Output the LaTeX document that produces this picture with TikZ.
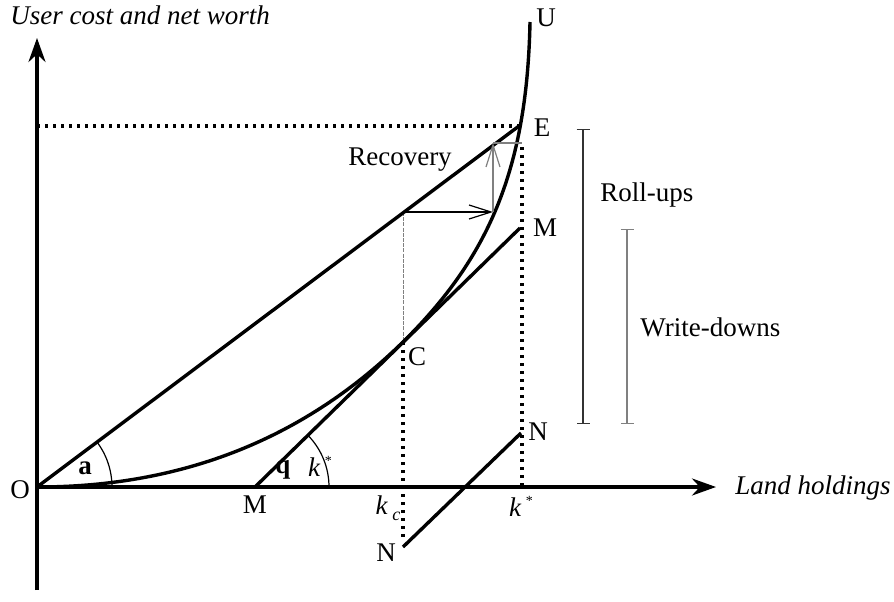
\documentclass[tikz,border=0pt]{standalone}
\usepackage{fontspec}
\setmainfont{Liberation Serif}
\usetikzlibrary{positioning,arrows.meta}

\begin{document}
\begin{tikzpicture}[x=0.5pt,y=0.5pt,
			font=\fontsize{13.5}{16}\selectfont,
			axis/.style={line width=1.7pt, -{Stealth[length=12pt,width=8.5pt]}},
			thickline/.style={line width=1.7pt},
			dots/.style={line width=1.7pt, dash pattern=on 1.6pt off 2.4pt},
			move/.style={line width=0.6pt, -{Straight Barb[length=11pt,width=7pt]}},
			span/.style={line width=0.6pt, {Bar[width=6.5pt]}-{Bar[width=6.5pt]}},
			lbl/.style={inner sep=1pt}]
			
			\useasboundingbox (-37,-114) rectangle (857,487);
			
			% points
			\coordinate (O) at (0,0);
			\coordinate (ytop) at (0,449);
			\coordinate (ybot) at (0,-103);
			\coordinate (xend) at (679,0);
			\coordinate (Mlow) at (218,0);
			\coordinate (Mup) at (483,259);
			\coordinate (C) at (366,145);
			\coordinate (E) at (482,361);
			\coordinate (U) at (493,465);
			\coordinate (Nlow) at (366,-60);
			\coordinate (Nup) at (484,54);
			\coordinate (Ey) at (0,361);
			\coordinate (kc) at (366,-52);
			\coordinate (ks) at (485,0);
			\coordinate (ksup) at (485,340);
			\coordinate (R0) at (366,275);
			\coordinate (R1) at (456,275);
			\coordinate (R2) at (456,344);
			\coordinate (R3) at (485,344);
			\coordinate (rtop) at (546,358);
			\coordinate (rbot) at (546,63);
			\coordinate (wtop) at (590,258);
			\coordinate (wbot) at (590,63);
			
			% axes
			\draw[axis] (ybot) -- (ytop);
			\draw[axis] (O) -- (xend);
			
			% dotted guides
			\draw[dots] (Ey) -- (E);
			\draw[dots] (ksup) -- (ks);
			\draw[dots] (C) -- (kc);
			\draw[gray, line width=0.4pt, dash pattern=on 2pt off 0.6pt] (R0) -- (C);
			
			% curve, ray, tangent, NN
			\draw[thickline] (O) .. controls (145,0) and (267,48) .. (C)
				.. controls (450,228) and (490,315) .. (U);
			\draw[thickline] (O) -- (E);
			\draw[thickline] (Mlow) -- (Mup);
			\draw[thickline] (Nlow) -- (Nup);
			
			% angles
			\draw[line width=0.6pt] (75,0) arc (0:36.87:75);
			\draw[line width=0.6pt] ([xshift=74*0.5pt]Mlow) arc (0:44.3:74);
			
			% recovery path
			\draw[move] (R0) -- (R1);
			\draw[move, gray] (R1) -- (R2);
			\draw[gray, line width=0.8pt] (R2) -- (R3);
			
			% spans
			\draw[span, black!80] (rtop) -- (rbot);
			\draw[span, gray] (wtop) -- (wbot);
			
			% labels
			\node[lbl, anchor=west] (ylab) at (-29,472) {\textit{User cost and net worth}};
			\node[lbl, anchor=west] (xlab) at (696,-1) {\textit{Land holdings}};
			\node[lbl] (lO) at (-17,-3) {O};
			\node[lbl] (lU) at (509,469) {U};
			\node[lbl] (lE) at (505,359) {E};
			\node[lbl] (lMup) at (508,259) {M};
			\node[lbl] (lC) at (380,130) {C};
			\node[lbl] (lNup) at (501,55) {N};
			\node[lbl] (lNlow) at (349,-66) {N};
			\node[lbl] (lMlow) at (218,-18) {M};
			\node[lbl] (lkc) at (351,-21) {\textit{k}\,\raisebox{-0.5ex}{\small\textit{c}}};
			\node[lbl] (lks) at (484,-19) {\textit{k}\,\raisebox{0.9ex}{\scriptsize *}};
			\node[lbl] (la) at (48,19) {\textbf{a}};
			\node[lbl] (lq) at (246,17) {\textbf{q}};
			\node[lbl] (lqk) at (283,21) {\textit{k}\,\raisebox{0.9ex}{\scriptsize *}};
			\node[lbl] (lrec) at (363,327) {Recovery};
			\node[lbl, anchor=west] (lroll) at (561,292) {Roll-ups};
			\node[lbl, anchor=west] (lwrite) at (601,160) {Write-downs};
			
		\end{tikzpicture}
\end{document}
